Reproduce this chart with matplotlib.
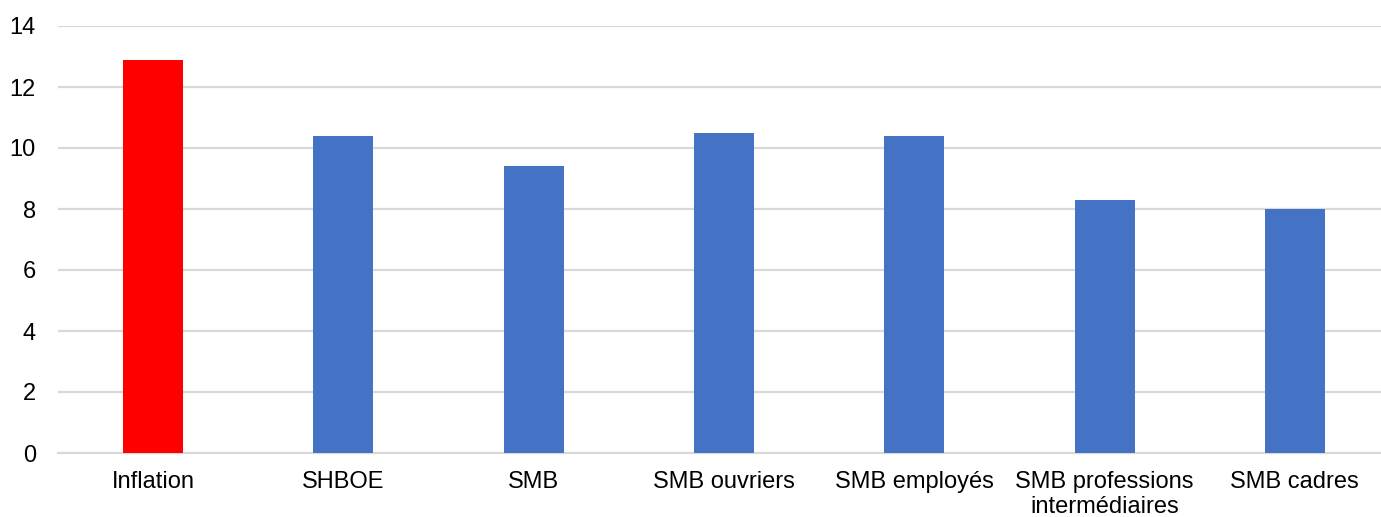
import matplotlib
matplotlib.use("Agg")
import matplotlib.pyplot as plt

categories = ["Inflation", "SHBOE", "SMB", "SMB ouvriers", "SMB employés",
              "SMB professions\nintermédiaires", "SMB cadres"]
values = [12.9, 10.4, 9.4, 10.5, 10.4, 8.3, 8.0]
colors = ["#FF0000", "#4472C4", "#4472C4", "#4472C4", "#4472C4", "#4472C4", "#4472C4"]
yticks = [0, 2, 4, 6, 8, 10, 12, 14]

plt.rcParams['font.family'] = ['Liberation Sans', 'DejaVu Sans']

W, H = 1381, 517
fig = plt.figure(figsize=(W / 100, H / 100), dpi=100)
left, right, bottom, top = 58, 1390, 453, 26
ax = fig.add_axes([left / W, (H - bottom) / H, (right - left) / W, (bottom - top) / H])

x = list(range(len(categories)))
ax.bar(x, values, width=0.315, color=colors, zorder=3)
ax.set_xlim(-0.5, len(categories) - 0.5)
ax.set_ylim(0, 14)
ax.set_yticks(yticks)
ax.set_yticklabels([str(v) for v in yticks])
ax.set_xticks(x)
ax.set_xticklabels(categories, linespacing=1.2)
ax.grid(axis='y', color='#D9D9D9', linewidth=1.6, zorder=0)
ax.set_axisbelow(True)
for s in ['top', 'right', 'left']:
    ax.spines[s].set_visible(False)
ax.spines['bottom'].set_color('#D9D9D9')
ax.spines['bottom'].set_linewidth(1.6)
ax.tick_params(axis='both', length=0, labelsize=17, colors='#000000')
ax.tick_params(axis='y', pad=16)
ax.tick_params(axis='x', pad=13)

fig.savefig("out.png", dpi=100)
